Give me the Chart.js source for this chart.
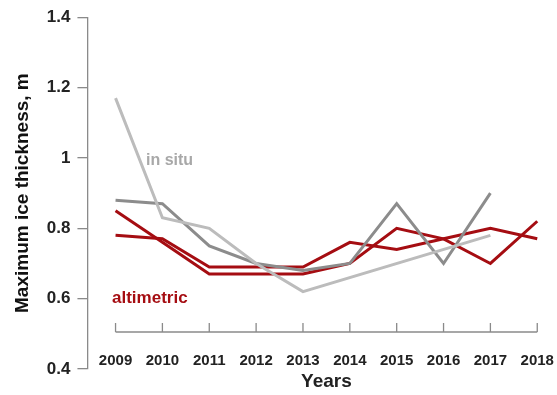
<!DOCTYPE html>
<html>
<head>
<meta charset="utf-8">
<script src="https://cdn.jsdelivr.net/npm/chart.js@4"></script>
<style>
  html, body { margin: 0; padding: 0; background: #fff; }
  #wrap { width: 557px; height: 395px; position: relative; }
</style>
</head>
<body>
<div id="wrap"><canvas id="iceChart"></canvas></div>
<script>
(function () {
    'use strict';

    var years = [2009, 2010, 2011, 2012, 2013, 2014, 2015, 2016, 2017, 2018];
    var inSituLight = [1.17, 0.83, 0.80, 0.70, 0.62, null, null, null, 0.78, null];
    var inSituDark = [0.88, 0.87, 0.75, 0.70, 0.68, 0.70, 0.87, 0.70, 0.90, null];
    var altimetricA = [0.85, 0.76, 0.67, 0.67, 0.67, 0.70, 0.80, 0.77, 0.70, 0.82];
    var altimetricB = [0.78, 0.77, 0.69, 0.69, 0.69, 0.76, 0.74, 0.77, 0.80, 0.77];
    var yTicks = [0.4, 0.6, 0.8, 1, 1.2, 1.4];

    var RED = '#a50d12';
    var LIGHT = '#bcbcbc';
    var DARK = '#8c8c8c';
    var AXIS = '#8a8a8a';
    var FONT = '"Liberation Sans", Arial, sans-serif';

    function pts(vals) {
        return years.map(function (y, i) { return { x: y, y: vals[i] }; });
    }

    function line(data, color) {
        return {
            data: pts(data),
            borderColor: color,
            backgroundColor: color,
            borderWidth: 3,
            pointRadius: 0,
            tension: 0,
            spanGaps: true,
            fill: false
        };
    }

    // x axis in R style: floating line with upward ticks, plus text labels
    var rAxis = {
        id: 'rAxis',
        afterDraw: function (chart) {
            var ctx = chart.ctx;
            var xs = chart.scales.x;
            var yLine = 332;
            ctx.save();
            ctx.strokeStyle = AXIS;
            ctx.lineWidth = 1.3;
            ctx.beginPath();
            ctx.moveTo(xs.getPixelForValue(years[0]), yLine);
            ctx.lineTo(xs.getPixelForValue(years[years.length - 1]), yLine);
            years.forEach(function (y) {
                var px = xs.getPixelForValue(y);
                ctx.moveTo(px, yLine);
                ctx.lineTo(px, yLine - 9);
            });
            ctx.stroke();

            ctx.fillStyle = '#222';
            ctx.textAlign = 'center';
            ctx.textBaseline = 'middle';
            ctx.font = 'bold 15px ' + FONT;
            years.forEach(function (y) {
                ctx.fillText(String(y), xs.getPixelForValue(y), 361);
            });
            ctx.font = 'bold 19px ' + FONT;
            ctx.fillText('Years', (xs.getPixelForValue(2009) + xs.getPixelForValue(2018)) / 2, 382);

            ctx.textAlign = 'left';
            ctx.font = 'bold 16px ' + FONT;
            ctx.fillStyle = '#a8a8a8';
            ctx.fillText('in situ', 146, 161);
            ctx.font = 'bold 17px ' + FONT;
            ctx.fillStyle = RED;
            ctx.fillText('altimetric', 112, 298);
            ctx.restore();
        }
    };

    new Chart(document.getElementById('iceChart'), {
        type: 'line',
        data: {
            datasets: [
                line(inSituLight, LIGHT),
                line(inSituDark, DARK),
                line(altimetricA, RED),
                line(altimetricB, RED)
            ]
        },
        options: {
            responsive: true,
            maintainAspectRatio: false,
            animation: false,
            layout: { padding: { top: 2, right: 1, bottom: 26, left: 11 } },
            plugins: { legend: { display: false }, tooltip: { enabled: false } },
            scales: {
                x: {
                    type: 'linear',
                    min: 2008.4,
                    max: 2018.4,
                    display: false
                },
                y: {
                    min: 0.4,
                    max: 1.4,
                    afterBuildTicks: function (axis) {
                        axis.ticks = yTicks.map(function (v) { return { value: v }; });
                    },
                    ticks: {
                        color: '#222',
                        padding: 7,
                        font: { family: FONT, size: 17, weight: 'bold' },
                        callback: function (v) { return String(v); }
                    },
                    grid: {
                        drawOnChartArea: false,
                        drawTicks: true,
                        tickLength: 10,
                        color: AXIS,
                        lineWidth: 1.3
                    },
                    border: { display: true, color: AXIS, width: 1.3 },
                    title: {
                        display: true,
                        text: 'Maximum ice thickness, m',
                        color: '#111',
                        padding: { top: 0, bottom: 6 },
                        font: { family: FONT, size: 19, weight: 'bold' }
                    }
                }
            }
        },
        plugins: [rAxis]
    });
}());
</script>
</body>
</html>
